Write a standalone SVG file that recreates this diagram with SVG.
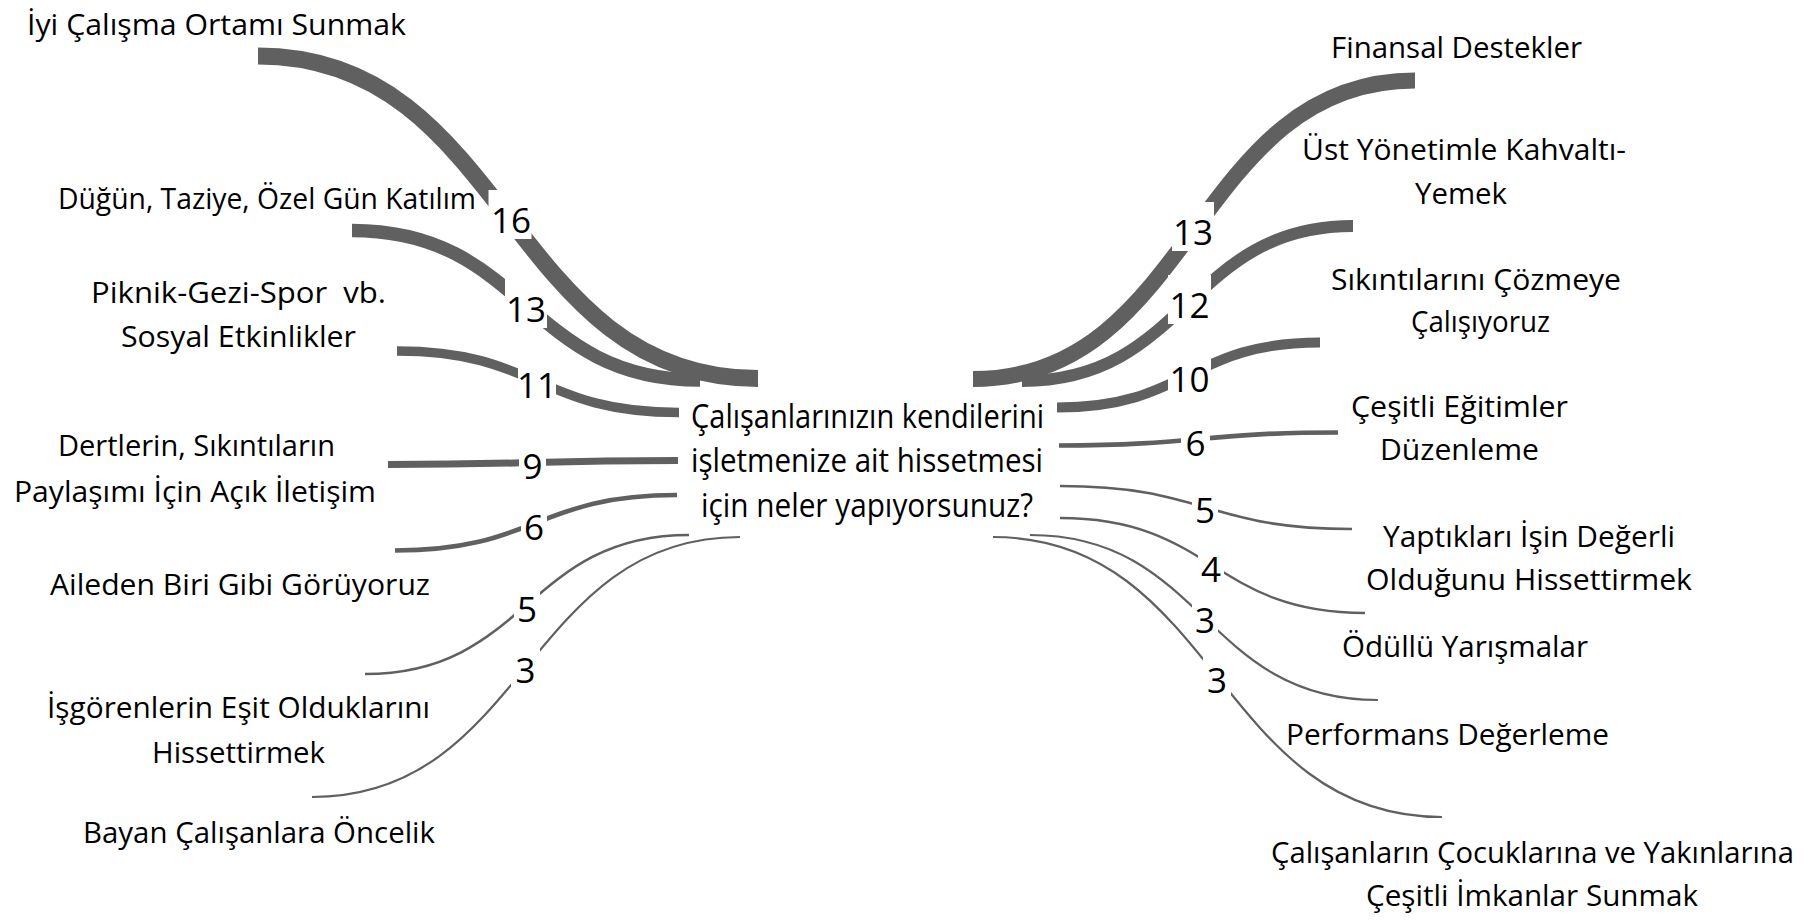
<svg xmlns="http://www.w3.org/2000/svg" width="1809" height="920" viewBox="0 0 1809 920">
  <style>
    text { font-family: "Open Sans", "Noto Sans", "DejaVu Sans", sans-serif; fill: #000; }
    .node text { font-size: 30px; text-anchor: middle; }
    .node text.start { text-anchor: start; }
    .hub text { font-size: 33px; text-anchor: middle; }
    .edge { fill: none; stroke: #606060; stroke-linecap: butt; }
    .lbl rect { fill: #fff; }
    .lbl text { font-size: 35px; text-anchor: middle; }
  </style>
  <rect width="1809" height="920" fill="#fff"/>

  <!-- central question -->
  <g id="hub" class="hub">
    <text x="867.5" y="428" textLength="353" lengthAdjust="spacingAndGlyphs">Çalışanlarınızın kendilerini</text>
    <text x="867" y="472" textLength="352" lengthAdjust="spacingAndGlyphs">işletmenize ait hissetmesi</text>
    <text x="867" y="517" textLength="332" lengthAdjust="spacingAndGlyphs">için neler yapıyorsunuz?</text>
  </g>

  <!-- left-hand answers -->
  <g id="n-iyi-calisma" class="node">
    <text x="216.5" y="35" textLength="379" lengthAdjust="spacingAndGlyphs">İyi Çalışma Ortamı Sunmak</text>
  </g>
  <g id="n-dugun" class="node">
    <text class="start" x="58" y="209" textLength="418" lengthAdjust="spacingAndGlyphs">Düğün, Taziye, Özel Gün Katılım</text>
  </g>
  <g id="n-piknik" class="node">
    <text x="238.5" y="303" textLength="295" lengthAdjust="spacingAndGlyphs" xml:space="preserve">Piknik-Gezi-Spor  vb.</text>
    <text x="238.5" y="347" textLength="235" lengthAdjust="spacingAndGlyphs">Sosyal Etkinlikler</text>
  </g>
  <g id="n-iletisim" class="node">
    <text x="196.5" y="456" textLength="277" lengthAdjust="spacingAndGlyphs">Dertlerin, Sıkıntıların</text>
    <text x="195" y="502" textLength="362" lengthAdjust="spacingAndGlyphs">Paylaşımı İçin Açık İletişim</text>
  </g>
  <g id="n-aile" class="node">
    <text x="240" y="595" textLength="380" lengthAdjust="spacingAndGlyphs">Aileden Biri Gibi Görüyoruz</text>
  </g>
  <g id="n-esitlik" class="node">
    <text x="238.5" y="718" textLength="383" lengthAdjust="spacingAndGlyphs">İşgörenlerin Eşit Olduklarını</text>
    <text x="238.5" y="763" textLength="173" lengthAdjust="spacingAndGlyphs">Hissettirmek</text>
  </g>
  <g id="n-bayan" class="node">
    <text x="259" y="843" textLength="352" lengthAdjust="spacingAndGlyphs">Bayan Çalışanlara Öncelik</text>
  </g>

  <!-- right-hand answers -->
  <g id="n-finansal" class="node">
    <text x="1456.5" y="58" textLength="251" lengthAdjust="spacingAndGlyphs">Finansal Destekler</text>
  </g>
  <g id="n-kahvalti" class="node">
    <text x="1464" y="160" textLength="324" lengthAdjust="spacingAndGlyphs">Üst Yönetimle Kahvaltı-</text>
    <text x="1461" y="204" textLength="92" lengthAdjust="spacingAndGlyphs">Yemek</text>
  </g>
  <g id="n-sikinti" class="node">
    <text x="1476" y="290" textLength="290" lengthAdjust="spacingAndGlyphs">Sıkıntılarını Çözmeye</text>
    <text x="1480.5" y="332" textLength="139" lengthAdjust="spacingAndGlyphs">Çalışıyoruz</text>
  </g>
  <g id="n-egitim" class="node">
    <text x="1459.5" y="417" textLength="217" lengthAdjust="spacingAndGlyphs">Çeşitli Eğitimler</text>
    <text x="1459.5" y="460" textLength="159" lengthAdjust="spacingAndGlyphs">Düzenleme</text>
  </g>
  <g id="n-deger" class="node">
    <text x="1529" y="547" textLength="292" lengthAdjust="spacingAndGlyphs">Yaptıkları İşin Değerli</text>
    <text x="1529" y="590" textLength="326" lengthAdjust="spacingAndGlyphs">Olduğunu Hissettirmek</text>
  </g>
  <g id="n-yarisma" class="node">
    <text x="1465" y="657" textLength="246" lengthAdjust="spacingAndGlyphs">Ödüllü Yarışmalar</text>
  </g>
  <g id="n-performans" class="node">
    <text x="1447.5" y="745" textLength="323" lengthAdjust="spacingAndGlyphs">Performans Değerleme</text>
  </g>
  <g id="n-cocuklar" class="node">
    <text x="1532.5" y="863" textLength="523" lengthAdjust="spacingAndGlyphs">Çalışanların Çocuklarına ve Yakınlarına</text>
    <text x="1532" y="906" textLength="332" lengthAdjust="spacingAndGlyphs">Çeşitli İmkanlar Sunmak</text>
  </g>

  <!-- ribbons, width by answer count -->
  <g id="connectors">
    <path class="edge" stroke-width="17" d="M258 56 C508 56 508 378.5 758 378.5"/>
    <path class="edge" stroke-width="13.5" d="M352 230.5 C526 230.5 526 380 700 380"/>
    <path class="edge" stroke-width="9.5" d="M397 351 C538 351 538 412.5 679 412.5"/>
    <path class="edge" stroke-width="7" d="M388 464.5 C533 464.5 533 460.5 678 460.5"/>
    <path class="edge" stroke-width="4.7" d="M395 550.5 C536 550.5 536 495 677 495"/>
    <path class="edge" stroke-width="2.6" d="M365 674 C527 674 527 535 689 535"/>
    <path class="edge" stroke-width="2.2" d="M312 797 C526 797 526 537 740 537"/>
    <path class="edge" stroke-width="16" d="M973 379 C1194 379 1194 80.5 1415 80.5"/>
    <path class="edge" stroke-width="12" d="M1022 381 C1187.5 381 1187.5 226 1353 226"/>
    <path class="edge" stroke-width="10" d="M1057 407.5 C1188.5 407.5 1188.5 342.5 1320 342.5"/>
    <path class="edge" stroke-width="4.7" d="M1059 445.5 C1198.5 445.5 1198.5 432.5 1338 432.5"/>
    <path class="edge" stroke-width="2.6" d="M1060 486 C1206 486 1206 529 1352 529"/>
    <path class="edge" stroke-width="2.4" d="M1060 518 C1212.5 518 1212.5 613 1365 613"/>
    <path class="edge" stroke-width="2.2" d="M1030 535 C1204 535 1204 700 1378 700"/>
    <path class="edge" stroke-width="2.2" d="M993 537 C1217.5 537 1217.5 817 1442 817"/>
  </g>

  <!-- counts on the ribbons -->
  <g id="connector-labels" class="lbl">
    <rect x="488.5" y="190" width="43" height="49"/><text x="511" y="233">16</text>
    <rect x="505" y="279" width="42" height="49"/><text x="526" y="322">13</text>
    <rect x="518" y="355" width="38" height="49"/><text x="537" y="398">11</text>
    <rect x="519" y="436" width="27" height="49"/><text x="532.5" y="479">9</text>
    <rect x="521" y="497" width="26" height="49"/><text x="534" y="540">6</text>
    <rect x="514" y="579" width="26" height="49"/><text x="527" y="622">5</text>
    <rect x="511" y="640" width="29" height="49"/><text x="525.5" y="683">3</text>
    <rect x="1172" y="202" width="42" height="49"/><text x="1193" y="245">13</text>
    <rect x="1168" y="275" width="43" height="49"/><text x="1189.5" y="318">12</text>
    <rect x="1168" y="349" width="43" height="49"/><text x="1189.5" y="392">10</text>
    <rect x="1181" y="413" width="29" height="49"/><text x="1195.5" y="456">6</text>
    <rect x="1192" y="480" width="26" height="49"/><text x="1205" y="523">5</text>
    <rect x="1198" y="539" width="26" height="49"/><text x="1211" y="582">4</text>
    <rect x="1192" y="590" width="26" height="49"/><text x="1205" y="633">3</text>
    <rect x="1203" y="650" width="28" height="49"/><text x="1217" y="693">3</text>
  </g>
</svg>
